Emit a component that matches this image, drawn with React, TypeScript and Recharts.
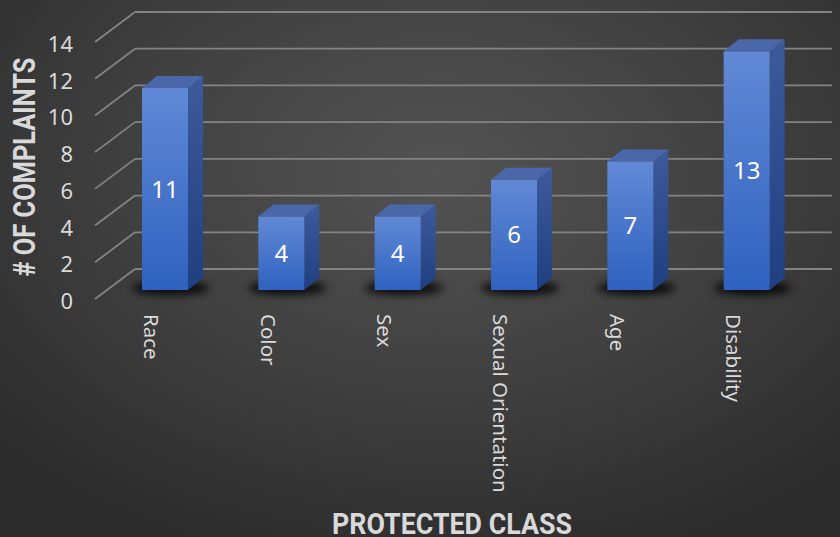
import React from 'react';
import { BarChart, Bar, XAxis, YAxis, CartesianGrid, LabelList } from 'recharts';

const categories = ['Race', 'Color', 'Sex', 'Sexual Orientation', 'Age', 'Disability'];
const complaints = [11, 4, 4, 6, 7, 13];
const yTicks = [0, 2, 4, 6, 8, 10, 12, 14];
const yTitle = '# OF COMPLAINTS';
const xTitle = 'PROTECTED CLASS';

const data = categories.map((c, i) => ({ category: c, complaints: complaints[i] }));

const DX = 15;
const DY = 12;
const GRID = '#838383';
const TEXT = '#d9d9d9';
const FONT = '"Noto Sans", "Open Sans", sans-serif';

const Bar3D = (props: any) => {
  const { x, y, width, height, index } = props;
  if (height == null || width == null) return null;
  const b = y + height;
  const fid = `f${index}`;
  const sid = `s${index}`;
  const shid = `sh${index}`;
  return (
    <g>
      <defs>
        <linearGradient id={fid} x1="0" y1="0" x2="0" y2="1">
          <stop offset="0%" stopColor="#6189d6" />
          <stop offset="100%" stopColor="#2f62bf" />
        </linearGradient>
        <linearGradient id={sid} x1="0" y1="0" x2="0" y2="1">
          <stop offset="0%" stopColor="#3d5a9c" />
          <stop offset="100%" stopColor="#1f3f80" />
        </linearGradient>
        <filter id={shid} x="-50%" y="-200%" width="200%" height="500%">
          <feGaussianBlur stdDeviation="4" />
        </filter>
      </defs>
      <ellipse cx={x + width / 2 + 6} cy={b - 2} rx={width * 0.85} ry={7} fill="#000" opacity={0.85} filter={`url(#${shid})`} />
      <polygon
        points={`${x + width},${y} ${x + width + DX},${y - DY} ${x + width + DX},${b - DY} ${x + width},${b}`}
        fill={`url(#${sid})`}
      />
      <polygon
        points={`${x},${y} ${x + DX},${y - DY} ${x + width + DX},${y - DY} ${x + width},${y}`}
        fill="#4a67aa"
      />
      <rect x={x} y={y} width={width} height={height} fill={`url(#${fid})`} />
    </g>
  );
};

const GridLine = (p: any) => {
  const y = p.y1;
  const fx = p.x1 - 12;
  const bx = p.x1 + 28;
  const ex = p.x2 + 27;
  return (
    <g key={`gl-${p.index}-${y}`}>
      <line x1={fx} y1={y + 9} x2={bx} y2={y - 21} stroke={GRID} strokeWidth={1.8} />
      <line x1={bx} y1={y - 21} x2={ex} y2={y - 21} stroke={GRID} strokeWidth={1.8} />
    </g>
  );
};

const YTick = (p: any) => (
  <text x={73} y={p.y + 10} textAnchor="end" dominantBaseline="central" fill={TEXT} fontSize={22} fontFamily={FONT}>
    {p.payload.value}
  </text>
);

const XTick = (p: any) => (
  <text
    transform={`translate(${p.x - 21},314) rotate(90)`}
    textAnchor="start"
    fill={TEXT}
    fontSize={20.5}
    fontFamily={FONT}
  >
    {p.payload.value}
  </text>
);

export default function App() {
  return (
    <div
      style={{
        width: 840,
        height: 537,
        background: 'radial-gradient(ellipse 70% 75% at 52% 32%, #535353 0%, #414141 50%, #2c2c2c 100%)',
        overflow: 'hidden',
      }}
    >
      <style>{`body{margin:0}`}</style>
      <BarChart width={840} height={537} data={data} margin={{ top: 33, right: 35, bottom: 246, left: 106 }}>
        <CartesianGrid vertical={false} horizontal={(p: any) => <GridLine {...p} />} />
        <XAxis
          dataKey="category"
          height={1}
          axisLine={false}
          tickLine={false}
          interval={0}
          tick={(p: any) => <XTick {...p} />}
          label={{
            content: () => (
              <text x={452} y={534} textAnchor="middle" fill={TEXT} fontSize={30} fontWeight={700} fontFamily="Roboto, sans-serif" textLength={240} lengthAdjust="spacingAndGlyphs">
                {xTitle}
              </text>
            ),
          }}
        />
        <YAxis
          width={1}
          domain={[0, 14]}
          ticks={yTicks}
          axisLine={false}
          tickLine={false}
          interval={0}
          tick={(p: any) => <YTick {...p} />}
          label={{
            content: () => (
              <text transform="translate(35,167) rotate(-90)" textAnchor="middle" fill={TEXT} fontSize={31} fontWeight={700} fontFamily="Roboto, sans-serif" textLength={219} lengthAdjust="spacingAndGlyphs">
                {yTitle}
              </text>
            ),
          }}
        />
        <Bar dataKey="complaints" barSize={46} shape={(p: any) => <Bar3D {...p} />} isAnimationActive={false}>
          <LabelList dataKey="complaints" position="center" fill="#ffffff" fontSize={24} fontFamily={FONT} />
        </Bar>
      </BarChart>
    </div>
  );
}
